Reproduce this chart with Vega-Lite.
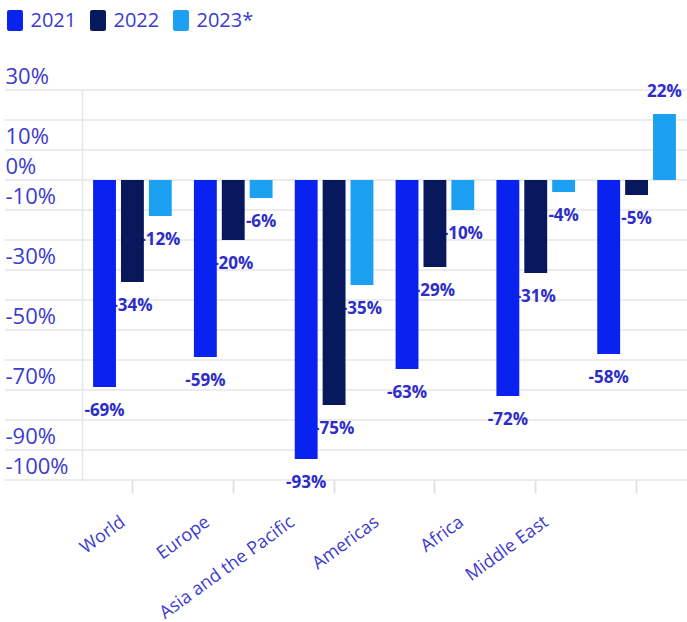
{
  "$schema": "https://vega.github.io/schema/vega-lite/v6.json",
  "width": 682,
  "height": 390,
  "autosize": {"type": "none"},
  "padding": {"left": 5, "top": 90, "right": 0, "bottom": 142},
  "background": "white",
  "config": {"view": {"stroke": null}, "font": "Open Sans"},
  "datasets": {
    "bars": [
      {"region": "World", "year": "2021", "value": -69},
      {"region": "World", "year": "2022", "value": -34},
      {"region": "World", "year": "2023*", "value": -12},
      {"region": "Europe", "year": "2021", "value": -59},
      {"region": "Europe", "year": "2022", "value": -20},
      {"region": "Europe", "year": "2023*", "value": -6},
      {"region": "Asia and the Pacific", "year": "2021", "value": -93},
      {"region": "Asia and the Pacific", "year": "2022", "value": -75},
      {"region": "Asia and the Pacific", "year": "2023*", "value": -35},
      {"region": "Americas", "year": "2021", "value": -63},
      {"region": "Americas", "year": "2022", "value": -29},
      {"region": "Americas", "year": "2023*", "value": -10},
      {"region": "Africa", "year": "2021", "value": -72},
      {"region": "Africa", "year": "2022", "value": -31},
      {"region": "Africa", "year": "2023*", "value": -4},
      {"region": "Middle East", "year": "2021", "value": -58},
      {"region": "Middle East", "year": "2022", "value": -5},
      {"region": "Middle East", "year": "2023*", "value": 22}
    ],
    "grid": [
      {"g": 30}, {"g": 20}, {"g": 10}, {"g": 0}, {"g": -10}, {"g": -20}, {"g": -30},
      {"g": -40}, {"g": -50}, {"g": -60}, {"g": -70}, {"g": -80}, {"g": -90}, {"g": -100}
    ]
  },
  "layer": [
    {
      "data": {"name": "grid"},
      "mark": {"type": "rule", "color": "#e6e6e6", "strokeWidth": 1.5},
      "encoding": {
        "y": {
          "field": "g",
          "type": "quantitative",
          "scale": {"domain": [-100, 30], "nice": false},
          "title": null,
          "axis": {
            "values": [30, 20, 10, 0, -10, -20, -30, -40, -50, -60, -70, -80, -90, -100],
            "labelExpr": "indexof([30,10,0,-10,-30,-50,-70,-90,-100], datum.value) >= 0 ? datum.value + '%' : ''",
            "grid": false,
            "domain": true,
            "domainColor": "#e6e6e6",
            "domainWidth": 1.5,
            "ticks": false,
            "tickSize": 0,
            "offset": -77,
            "labelAlign": "left",
            "labelPadding": 77,
            "labelBaseline": "alphabetic",
            "labelOffset": -7,
            "labelFontSize": 22,
            "labelFont": "Open Sans",
            "labelColor": "#3b3bcf"
          }
        }
      }
    },
    {
      "data": {"name": "bars"},
      "transform": [{"calculate": "datum.value + '%'", "as": "lbl"}],
      "encoding": {
        "x": {
          "field": "region",
          "type": "nominal",
          "sort": ["World", "Europe", "Asia and the Pacific", "Americas", "Africa", "Middle East"],
          "scale": {"range": [77, 682], "paddingInner": 0.22, "paddingOuter": 0.11},
          "title": null,
          "axis": {
            "domain": false,
            "grid": false,
            "ticks": true,
            "tickColor": "#e2e2e2",
            "tickWidth": 2,
            "tickSize": 13,
            "labelAngle": -36,
            "labelAlign": "right",
            "labelBaseline": "middle",
            "labelPadding": 27,
            "labelFontSize": 18,
            "labelFont": "Open Sans",
            "labelColor": "#3b3bcf",
            "labelLimit": 300,
            "labelOffset": {"expr": "-9 - 16.2 * indexof(['World','Europe','Asia and the Pacific','Americas','Africa','Middle East'], datum.value)"}
          }
        },
        "xOffset": {
          "field": "year",
          "type": "nominal",
          "scale": {"paddingInner": 0.18, "paddingOuter": 0}
        },
        "y": {
          "field": "value",
          "type": "quantitative",
          "scale": {"domain": [-100, 30], "nice": false},
          "title": null,
          "axis": {
            "values": [30, 20, 10, 0, -10, -20, -30, -40, -50, -60, -70, -80, -90, -100],
            "labelExpr": "indexof([30,10,0,-10,-30,-50,-70,-90,-100], datum.value) >= 0 ? datum.value + '%' : ''",
            "grid": false,
            "domain": true,
            "domainColor": "#e6e6e6",
            "domainWidth": 1.5,
            "ticks": false,
            "tickSize": 0,
            "offset": -77,
            "labelAlign": "left",
            "labelPadding": 77,
            "labelBaseline": "alphabetic",
            "labelOffset": -7,
            "labelFontSize": 22,
            "labelFont": "Open Sans",
            "labelColor": "#3b3bcf"
          }
        }
      },
      "layer": [
        {
          "transform": [{"filter": "datum.value < 0"}],
          "mark": {"type": "text", "dy": 24, "fontWeight": "bold", "fontSize": 17, "font": "Open Sans", "color": "#2d2dc8", "baseline": "middle", "align": "center"},
          "encoding": {"text": {"field": "lbl"}}
        },
        {
          "transform": [{"filter": "datum.value >= 0"}],
          "mark": {"type": "text", "dy": -22, "fontWeight": "bold", "fontSize": 17, "font": "Open Sans", "color": "#2d2dc8", "baseline": "middle", "align": "center"},
          "encoding": {"text": {"field": "lbl"}}
        },
        {
          "mark": {"type": "bar"},
          "encoding": {
            "color": {
              "field": "year",
              "type": "nominal",
              "scale": {"domain": ["2021", "2022", "2023*"], "range": ["#0a22f0", "#07185c", "#1ba0f2"]},
              "legend": {
                "title": null,
                "orient": "none",
                "legendX": -0.5,
                "legendY": -80,
                "direction": "horizontal",
                "padding": 0,
                "columnPadding": 11,
                "labelOffset": 5,
                "symbolSize": 441,
                "symbolType": "M-0.56,-1 H0.56 Q0.76,-1 0.76,-0.8 V0.8 Q0.76,1 0.56,1 H-0.56 Q-0.76,1 -0.76,0.8 V-0.8 Q-0.76,-1 -0.56,-1 Z",
                "symbolStrokeWidth": 0,
                "symbolOpacity": 1,
                "labelFontSize": 20,
                "labelFont": "Open Sans",
                "labelColor": "#3b3bcf"
              }
            }
          }
        }
      ]
    }
  ]
}
